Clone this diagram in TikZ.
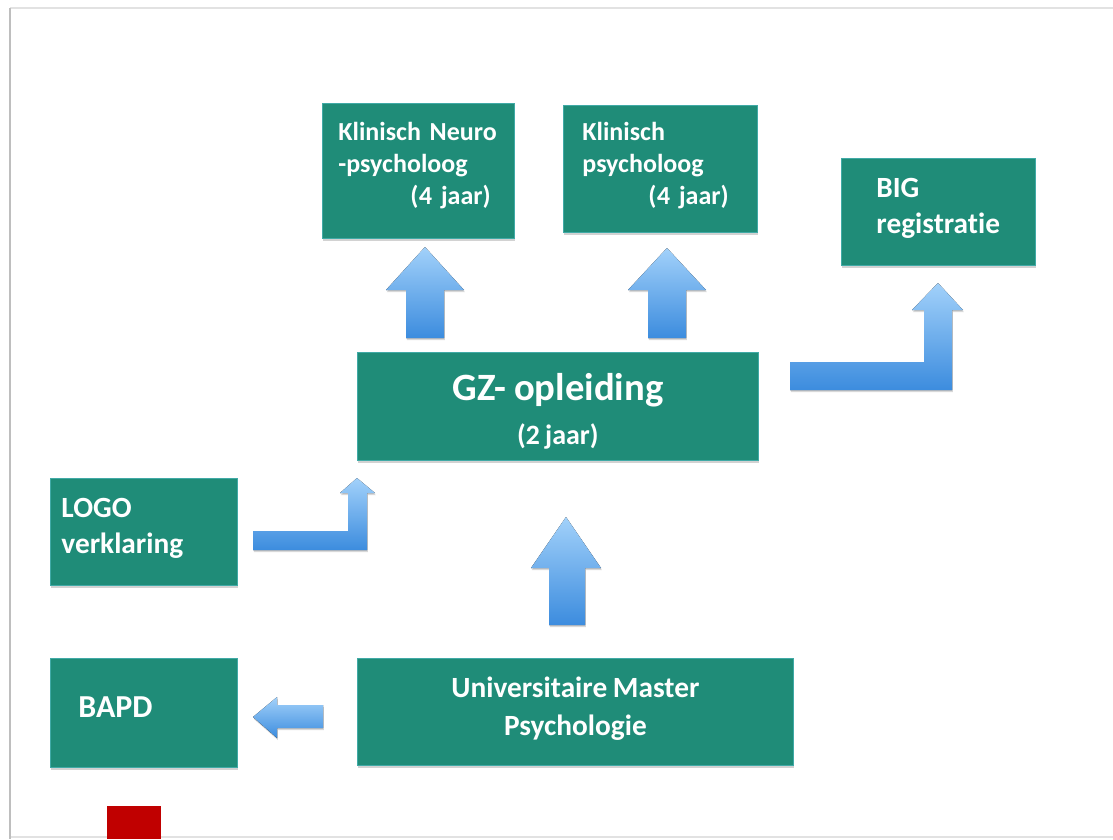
\documentclass[tikz,border=0pt]{standalone}
\usepackage{fontspec}
\setmainfont{Carlito}[WordSpace=0.85, Ligatures=NoCommon, Numbers=Proportional]
\usetikzlibrary{shadows}

\definecolor{boxgreen}{RGB}{31,140,120}
\definecolor{boxedge}{RGB}{64,170,166}
\definecolor{arrowtop}{RGB}{162,209,250}
\definecolor{arrowbot}{RGB}{60,140,222}
\definecolor{edgegray}{RGB}{190,190,190}
\definecolor{lightgray}{RGB}{226,226,226}
\definecolor{markred}{RGB}{192,0,0}

\tikzset{
    stage/.style={rectangle, fill=boxgreen, draw=boxedge, line width=0.6pt,
        anchor=north west, inner sep=0pt, text=white,
        drop shadow={shadow xshift=0.5pt, shadow yshift=-1.8pt, opacity=0.35}},
    smalltxt/.style={font=\bfseries\fontsize{19.5}{24}\selectfont},
    midtxt/.style={font=\bfseries\fontsize{22}{27}\selectfont},
    blockarrow/.style={top color=arrowtop, bottom color=arrowbot,
        drop shadow={shadow xshift=0.6pt, shadow yshift=-1.5pt, opacity=0.3}}
}

\begin{document}
\begin{tikzpicture}[x=0.75pt, y=-0.75pt]

    % Page
    \useasboundingbox (0,0) rectangle (1113,839);
    \fill[white] (0,0) rectangle (1113,839);
    \draw[lightgray, line width=1.2pt] (1113,8) -- (10,8);
    \draw[lightgray, line width=1.2pt] (10,837) -- (1113,837);
    \draw[edgegray, line width=1.8pt] (10,8) -- (10,839);

    % Stages
    \node[stage, smalltxt, minimum width=144pt, minimum height=101.25pt,
          text width=120pt, text height=0pt, text depth=45.75pt, align=left] (neuro) at (322,103)
        {\mbox{Klinisch Neuro}\\-psycholoog\\\hspace*{54pt}(4 jaar)};
    \node[stage, smalltxt, minimum width=145.5pt, minimum height=95.25pt,
          text width=117pt, text height=0pt, text depth=42.75pt, align=left] (klinisch) at (563,105)
        {Klinisch\\psycholoog\\\hspace*{49.5pt}(4 jaar)};
    \node[stage, midtxt, minimum width=145.5pt, minimum height=80.25pt,
          text width=93pt, text height=0pt, text depth=21.75pt, align=left] (big) at (841,158)
        {BIG\\\mbox{registratie}};
    \node[stage, minimum width=300.75pt, minimum height=81pt, align=center,
          text height=56.5pt, text depth=0pt,
          font=\bfseries\fontsize{21}{33}\selectfont] (gz) at (357,352)
        {{\fontsize{29}{33}\selectfont GZ- opleiding}\\(2 jaar)};
    \node[stage, midtxt, minimum width=140.25pt, minimum height=80.25pt,
          text width=123.75pt, text height=0pt, text depth=21.75pt, align=left] (logo) at (50,478)
        {LOGO\\\mbox{verklaring}};
    \node[stage, minimum width=140.25pt, minimum height=81.75pt,
          text width=98.25pt, text height=6.75pt, text depth=0pt, align=left,
          font=\bfseries\fontsize{24}{29}\selectfont] (bapd) at (50,658)
        {BAPD};
    \node[stage, minimum width=327pt, minimum height=80.25pt, align=center,
          text height=36pt, text depth=0pt,
          font=\bfseries\fontsize{22}{28.5}\selectfont] (master) at (357,658)
        {Universitaire Master\\Psychologie};

    % Block arrows
    \fill[blockarrow] (406,338) -- (406,290) -- (386,290) -- (425,247)
        -- (464,290) -- (444,290) -- (444,338) -- cycle;
    \fill[blockarrow] (648,338) -- (648,290) -- (628,290) -- (667,248)
        -- (706,290) -- (686,290) -- (686,338) -- cycle;
    \fill[blockarrow] (790,362) -- (924,362) -- (924,310) -- (912,310) -- (938,283)
        -- (963,310) -- (952,310) -- (952,390) -- (790,390) -- cycle;
    \fill[blockarrow] (253,531) -- (348,531) -- (348,493) -- (340,493) -- (357,478)
        -- (375,493) -- (367,493) -- (367,550) -- (253,550) -- cycle;
    \fill[blockarrow] (549,625) -- (549,568) -- (531,568) -- (566,517)
        -- (601,568) -- (585,568) -- (585,625) -- cycle;
    \fill[blockarrow] (323,705) -- (277,705) -- (277,697) -- (253,717)
        -- (277,738) -- (277,728) -- (323,728) -- cycle;

    % Corner mark
    \fill[markred] (107,806) rectangle (161,839);
\end{tikzpicture}
\end{document}
